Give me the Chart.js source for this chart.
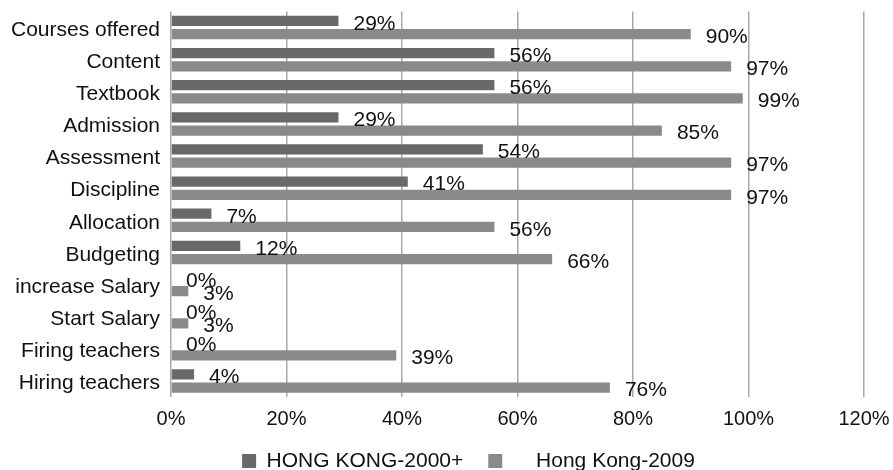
<!DOCTYPE html>
<html>
<head>
<meta charset="utf-8">
<title>Hong Kong school autonomy</title>
<script src="https://cdn.jsdelivr.net/npm/chart.js@4.4.1/dist/chart.umd.min.js"></script>
<style>
  html, body { margin: 0; padding: 0; background: #fff; }
  canvas { display: block; }
</style>
</head>
<body>
<canvas id="chart" width="893" height="470"></canvas>
<script>
const categories = [
    "Courses offered", "Content", "Textbook", "Admission", "Assessment", "Discipline",
    "Allocation", "Budgeting", "increase Salary", "Start Salary", "Firing teachers", "Hiring teachers"
];
const hk2000 = [29, 56, 56, 29, 54, 41, 7, 12, 0, 0, 0, 4];
const hk2009 = [90, 97, 99, 85, 97, 97, 56, 66, 3, 3, 39, 76];
const seriesNames = ["HONG KONG-2000+", "Hong Kong-2009"];
const xTicks = [0, 20, 40, 60, 80, 100, 120];

const FONT = "'Liberation Sans', Arial, sans-serif";
const DARK = "#696969";
const LIGHT = "#8a8a8a";

// value labels sit a bit to the right of each bar end
const barLabels = {
    id: "barLabels",
    afterDatasetsDraw(chart) {
        const ctx = chart.ctx;
        ctx.save();
        ctx.font = "21px " + FONT;
        ctx.fillStyle = "#111";
        ctx.textAlign = "left";
        ctx.textBaseline = "middle";
        chart.data.datasets.forEach((ds, i) => {
            chart.getDatasetMeta(i).data.forEach((bar, j) => {
                ctx.fillText(ds.data[j] + "%", bar.x + 15, bar.y + 3);
            });
        });
        ctx.restore();
    }
};

// squeeze the legend box so it sits near the bottom edge, and nudge it right
const legendFit = {
    id: "legendFit",
    beforeInit(chart) {
        const fit = chart.legend.fit;
        chart.legend.fit = function () {
            fit.call(this);
            this.height = 44.5;
        };
    },
    afterLayout(chart) {
        chart.legend.left += 36.5;
        chart.legend.right += 36.5;
    }
};

new Chart(document.getElementById("chart"), {
    type: "bar",
    data: {
        labels: categories,
        datasets: [
            { label: seriesNames[0], data: hk2000, backgroundColor: DARK },
            { label: seriesNames[1], data: hk2009, backgroundColor: LIGHT }
        ]
    },
    options: {
        indexAxis: "y",
        responsive: false,
        animation: false,
        categoryPercentage: 0.82,
        barPercentage: 0.78,
        layout: { padding: { top: 11.5, left: 0, right: 29, bottom: 0 } },
        scales: {
            x: {
                min: xTicks[0],
                max: xTicks[xTicks.length - 1],
                afterBuildTicks: (axis) => { axis.ticks = xTicks.map((v) => ({ value: v })); },
                afterFit: (axis) => {
                    axis.height = 28.5;
                    axis.paddingLeft = 0;
                    axis.paddingRight = 0;
                },
                grid: { color: "#a8a8a8", lineWidth: 1.5, drawTicks: false },
                border: { display: false },
                ticks: {
                    padding: 10,
                    color: "#111",
                    font: { family: FONT, size: 20 },
                    callback: (v) => v + "%"
                }
            },
            y: {
                afterFit: (axis) => {
                    axis.width = 171;
                    axis.paddingTop = 0;
                    axis.paddingBottom = 0;
                },
                grid: { display: false, drawTicks: false },
                border: { display: false },
                ticks: {
                    padding: 11,
                    labelOffset: 2.5,
                    color: "#111",
                    font: { family: FONT, size: 21 }
                }
            }
        },
        plugins: {
            tooltip: { enabled: false },
            legend: {
                position: "bottom",
                labels: {
                    boxWidth: 14,
                    boxHeight: 14,
                    padding: 25,
                    color: "#111",
                    font: { family: FONT, size: 21 },
                    generateLabels: (chart) => {
                        const items = Chart.defaults.plugins.legend.labels.generateLabels(chart);
                        items[1].text = "    " + items[1].text;
                        return items;
                    }
                }
            }
        }
    },
    plugins: [barLabels, legendFit]
});
</script>
</body>
</html>
